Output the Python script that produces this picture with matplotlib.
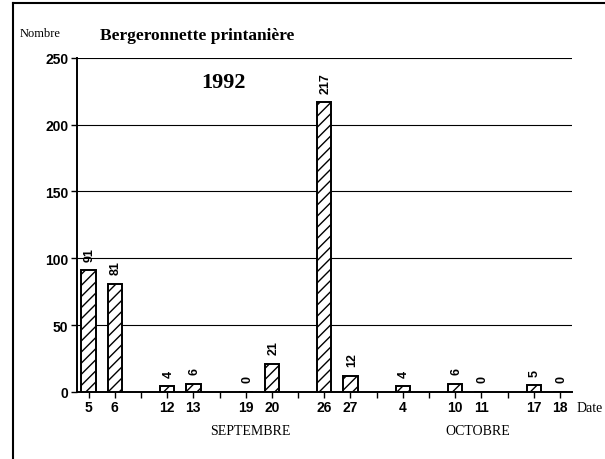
import matplotlib.pyplot as plt
from matplotlib.lines import Line2D

# jours de comptage (les '' sont des intervalles sans comptage)
jours = ['5', '6', '', '12', '13', '', '19', '20', '', '26', '27', '',
         '4', '', '10', '11', '', '17', '18']
nombres = [91, 81, None, 4, 6, None, 0, 21, None, 217, 12, None,
           4, None, 6, 0, None, 5, 0]
graduations = [0, 50, 100, 150, 200, 250]
mois = ['SEPTEMBRE', 'OCTOBRE']

serif = 'Liberation Serif'
sans = 'Liberation Sans'

fig = plt.figure(figsize=(6.05, 4.6), dpi=100)
ax = fig.add_axes([0.127, 0.146, 0.818, 0.726])

# lignes horizontales
for g in graduations[1:]:
    ax.axhline(g, color='black', lw=0.8, zorder=1)

xs = [i for i, v in enumerate(nombres) if v is not None]
vals = [v for v in nombres if v is not None]
bars = ax.bar(xs, vals, width=0.55, facecolor='white', edgecolor='black',
              hatch='///', lw=1.4, zorder=3)
for x, v in zip(xs, vals):
    ax.text(x + 0.05, v + 7, str(v), rotation=90, ha='center', va='bottom',
            fontsize=9, fontweight='bold', family=sans)

ax.set_xlim(-0.45, 18.45)
ax.set_ylim(0, 250)
ax.set_xticks(range(len(jours)))
ax.set_xticklabels(jours, fontsize=10, fontweight='bold', family=sans)
ax.set_yticks(graduations)
ax.set_yticklabels([str(g) for g in graduations], fontsize=10,
                   fontweight='bold', family=sans)
ax.tick_params(axis='x', length=4, width=1, direction='out', pad=2)
ax.tick_params(axis='y', length=4, width=1, direction='out', pad=2)

for s in ['top', 'right']:
    ax.spines[s].set_visible(False)
ax.spines['left'].set_linewidth(1.4)
ax.spines['bottom'].set_linewidth(1.4)

ax.text(5.15, 232, '1992', ha='center', va='center', fontsize=16,
        fontweight='bold', family=serif)

fig.text(0.033, 0.926, 'Nombre', fontsize=9, family=serif, va='center')
fig.text(0.326, 0.922, 'Bergeronnette printanière', fontsize=12.5,
         fontweight='bold', family=serif, ha='center', va='center')
fig.text(0.953, 0.113, 'Date', fontsize=10, family=serif, va='center')
fig.text(0.413, 0.061, mois[0], fontsize=10, family=serif, ha='center', va='center')
fig.text(0.79, 0.061, mois[1], fontsize=10, family=serif, ha='center', va='center')

# cadre de la page
fig.add_artist(Line2D([0.021, 0.021], [0.0, 0.992], color='black', lw=1.5))
fig.add_artist(Line2D([0.021, 1.0], [0.992, 0.992], color='black', lw=1.5))

fig.savefig('out.png', dpi=100)
